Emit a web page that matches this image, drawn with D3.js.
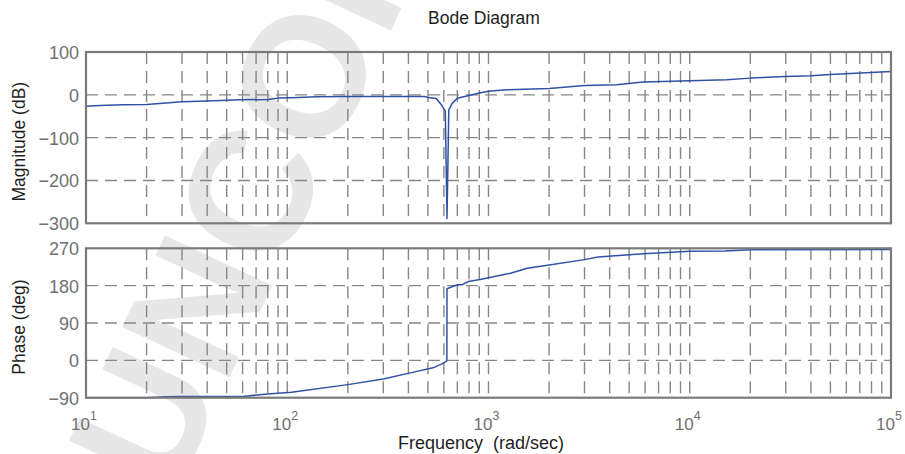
<!DOCTYPE html>
<html>
<head>
<meta charset="utf-8">
<script src="https://cdn.jsdelivr.net/npm/d3@7"></script>
<style>
  body { margin: 0; background: #fff; }
  svg { display: block; font-family: "Liberation Sans", Arial, Helvetica, sans-serif; }
</style>
</head>
<body>
<svg id="chart" width="905" height="454"></svg>
<script>
// Magnitude response (rad/sec, dB)
const magFreq = [10, 11.7, 15.3, 20, 30, 40, 58, 80, 90, 105, 140, 200, 300, 480, 500, 550, 587, 610, 622, 635, 660, 700, 880, 1000, 1233, 2000, 3000, 4340, 5860, 10000, 15300, 20000, 30000, 40000, 50000, 100000];
const magDb   = [-26.4, -24.8, -23.4, -22.4, -16.4, -14.7, -11.7, -10.8, -7.7, -7, -4.7, -3.7, -3.7, -3.7, -6, -8.4, -25, -38, -289, -35, -20, -8, 3, 8.6, 11.7, 15, 22, 23.4, 29.7, 32.7, 35, 39, 43, 44.4, 47.7, 54.7];

// Phase response (rad/sec, deg)
const phaseFreq = [10, 20, 25, 30, 60, 80, 105, 200, 300, 420, 530, 587, 621, 622, 700, 737, 795, 908, 1000, 1285, 1560, 2000, 3000, 3500, 5900, 10000, 15000, 20000, 100000];
const phaseDeg  = [-90, -90, -88, -87, -87, -81, -77, -58.5, -45, -29, -18, -8.5, -1, 172.5, 182, 182, 190, 194.6, 199, 210, 222, 229.6, 242.7, 249, 257, 262.6, 263.4, 266.7, 267];

const magTicks = [100, 0, -100, -200, -300];
const phaseTicks = [270, 180, 90, 0, -90];
const decades = [1e1, 1e2, 1e3, 1e4, 1e5];
const decadeExponents = ["1", "2", "3", "4", "5"];

const title = "Bode Diagram";
const magLabel = "Magnitude (dB)";
const phaseLabel = "Phase (deg)";
const freqLabel = "Frequency  (rad/sec)";
const watermark = "UNCOR";

const left = 86, right = 891;
const magTop = 52, magBottom = 223.3;
const phTop = 248.3, phBottom = 397.7;

const lineColor = "#2f52a6";
const gridColor = "#868686";
const frameColor = "#7a7a7a";
const tickTextColor = "#707070";
const labelColor = "#1e1e1e";

const svg = d3.select("#chart");

// faint background stamp
svg.append("text")
  .attr("transform", "translate(172,500) rotate(-65)")
  .attr("font-size", 172)
  .attr("font-weight", "bold")
  .attr("fill", "#e7e7e7")
  .text(watermark);

const x = d3.scaleLog().domain([1e1, 1e5]).range([left, right]);
const yMag = d3.scaleLinear().domain([-300, 100]).range([magBottom, magTop]);
const yPh = d3.scaleLinear().domain([-90, 270]).range([phBottom, phTop]);

// vertical grid positions: every integer multiple inside each decade
const gridFreqs = [];
decades.slice(0, -1).forEach(d => { for (let m = 1; m <= 9; m++) { if (!(m === 1 && d === 1e1)) gridFreqs.push(m * d); } });

function panel(y, ticks, top, bottom, freqs, values, label) {
  const g = svg.append("g");
  // vertical dashed grid
  g.selectAll("line.vg").data(gridFreqs).join("line")
    .attr("x1", d => x(d)).attr("x2", d => x(d))
    .attr("y1", top).attr("y2", bottom)
    .attr("stroke", gridColor).attr("stroke-width", 1.4)
    .attr("stroke-dasharray", "12,7");
  // horizontal dashed grid
  g.selectAll("line.hg").data(ticks.slice(1, -1)).join("line")
    .attr("x1", left).attr("x2", right)
    .attr("y1", d => y(d)).attr("y2", d => y(d))
    .attr("stroke", gridColor).attr("stroke-width", 1.4)
    .attr("stroke-dasharray", "12,7");
  // response curve
  const line = d3.line().x(d => x(d[0])).y(d => y(d[1]));
  g.append("path")
    .datum(freqs.map((f, i) => [f, values[i]]))
    .attr("d", line)
    .attr("fill", "none")
    .attr("stroke", lineColor)
    .attr("stroke-width", 1.5)
    .attr("stroke-linejoin", "round");
  // frame
  g.append("rect")
    .attr("x", left).attr("y", top)
    .attr("width", right - left).attr("height", bottom - top)
    .attr("fill", "none").attr("stroke", frameColor).attr("stroke-width", 2.2);
  // y tick labels
  const axis = d3.axisLeft(y).tickValues(ticks).tickSize(0).tickPadding(7).tickFormat(d3.format("d"));
  const ag = g.append("g").attr("transform", `translate(${left},0)`).call(axis);
  ag.select(".domain").remove();
  ag.selectAll("text")
    .attr("font-size", 18)
    .attr("font-family", "Liberation Sans, Arial, sans-serif")
    .attr("fill", tickTextColor)
    .attr("dy", "0.36em");
  // y label
  svg.append("text")
    .attr("transform", `translate(25,${(top + bottom) / 2 + 4}) rotate(-90)`)
    .attr("text-anchor", "middle")
    .attr("font-size", 17.5)
    .attr("fill", labelColor)
    .text(label);
}

panel(yMag, magTicks, magTop, magBottom, magFreq, magDb, magLabel);
panel(yPh, phaseTicks, phTop, phBottom, phaseFreq, phaseDeg, phaseLabel);

// x tick labels as powers of ten
const xl = svg.append("g");
decades.forEach((d, i) => {
  const t = xl.append("text")
    .attr("x", x(d) - 2)
    .attr("y", 429.5)
    .attr("text-anchor", "middle")
    .attr("font-size", 17)
    .attr("fill", tickTextColor);
  t.append("tspan").text("10");
  t.append("tspan").attr("dy", -10).attr("font-size", 12.5).text(decadeExponents[i]);
});

// title and x label
svg.append("text")
  .attr("x", 484).attr("y", 24)
  .attr("text-anchor", "middle")
  .attr("font-size", 17.5)
  .attr("fill", labelColor)
  .text(title);

svg.append("text")
  .attr("x", 481).attr("y", 449)
  .attr("text-anchor", "middle")
  .attr("font-size", 18)
  .attr("fill", labelColor)
  .style("white-space", "pre")
  .text(freqLabel);
</script>
</body>
</html>
